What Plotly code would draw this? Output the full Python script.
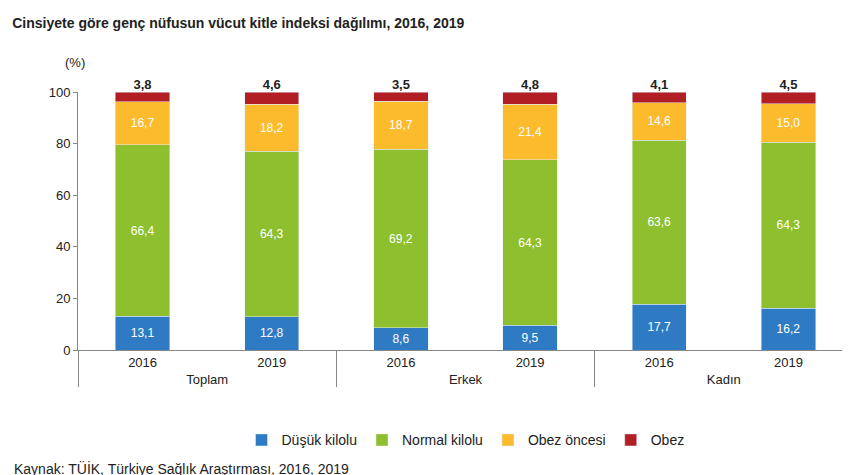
import plotly.graph_objects as go

groups = ["Toplam", "Toplam", "Erkek", "Erkek", "Kadın", "Kadın"]
years = ["2016", "2019", "2016", "2019", "2016", "2019"]
dusuk = [13.1, 12.8, 8.6, 9.5, 17.7, 16.2]
normal = [66.4, 64.3, 69.2, 64.3, 63.6, 64.3]
obez_oncesi = [16.7, 18.2, 18.7, 21.4, 14.6, 15.0]
obez = [3.8, 4.6, 3.5, 4.8, 4.1, 4.5]

x = [groups, years]
fig = go.Figure()
series = [("Düşük kilolu", dusuk, "#2E7BC4"), ("Normal kilolu", normal, "#8DBF2E"),
          ("Obez öncesi", obez_oncesi, "#FBBB2C"), ("Obez", obez, "#B11F24")]
for name, vals, col in series:
    labelled = name != "Obez"
    fig.add_trace(go.Bar(
        x=x, y=vals, name=name, marker_color=col, width=0.42,
        texttemplate="%{y:.1f}" if labelled else "",
        textposition="inside" if labelled else "none", insidetextanchor="middle",
        textfont=dict(color="white", size=12)))

# Obez values above the bars
tops = [a + b + c + d for a, b, c, d in zip(dusuk, normal, obez_oncesi, obez)]
fig.add_trace(go.Scatter(
    x=x, y=tops, mode="text", text=[f"<b>{v:.1f}</b>".replace(".", ",") for v in obez],
    textposition="top center", textfont=dict(color="#222", size=13),
    showlegend=False, cliponaxis=False, hoverinfo="skip"))

fig.update_layout(
    barmode="stack", width=850, height=475, separators=",.",
    paper_bgcolor="white", plot_bgcolor="white",
    font=dict(family="Arial, Liberation Sans", size=13, color="#222"),
    margin=dict(l=70, r=5, t=84, b=133, autoexpand=False),
    legend=dict(orientation="h", x=0.5, xanchor="center", y=-0.35, yanchor="middle",
                font=dict(size=14), traceorder="normal"),
    title=dict(text="<b>Cinsiyete göre genç nüfusun vücut kitle indeksi dağılımı, 2016, 2019</b>",
               x=0.005, xanchor="left", y=0.968, yanchor="middle", font=dict(size=14)),
)
fig.update_yaxes(range=[0, 100], dtick=20, showgrid=False, showline=True, linecolor="#888",
                 ticks="outside", ticklen=4, tickcolor="#888", tickfont=dict(size=13))
fig.update_xaxes(showline=True, linecolor="#888", showdividers=True, dividercolor="#888",
                 dividerwidth=1, tickfont=dict(size=13))
fig.add_annotation(text="(%)", xref="paper", yref="paper", x=-0.02, y=1.15,
                   showarrow=False, font=dict(size=13))
fig.add_annotation(text="Kaynak: TÜİK, Türkiye Sağlık Araştırması, 2016, 2019",
                   xref="paper", yref="paper", x=-0.085, xanchor="left", y=-0.46,
                   yanchor="middle", showarrow=False, font=dict(size=14))
fig.write_html("out.html")
